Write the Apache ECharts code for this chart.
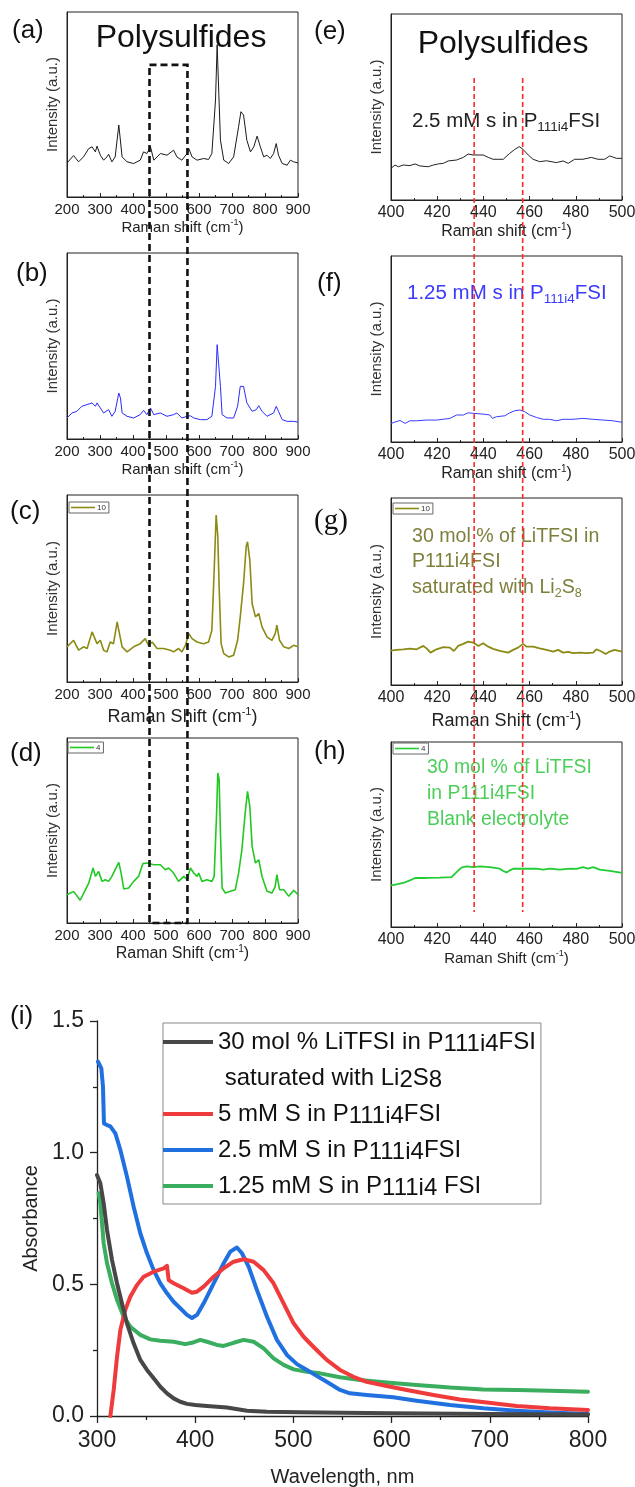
<!DOCTYPE html>
<html><head><meta charset="utf-8">
<script src="https://cdn.jsdelivr.net/npm/echarts@6/dist/echarts.min.js"></script>
<style>html,body{margin:0;padding:0;background:#fff}#c{width:635px;height:1487px}</style>
</head><body><div id="c"></div>
<script>
// ---------- data ----------
const wideRange = [200, 900];
const narrowRange = [400, 500];

const spectrumA = [[200,18.4],[220,22.4],[235,19.0],[250,21.7],[266,26.2],[276,27.1],[286,24.4],[291,27.5],[301,22.6],[311,19.9],[321,21.7],[326,23.1],[336,19.0],[346,21.7],[357,38.9],[367,21.7],[382,19.0],[402,18.1],[422,19.9],[432,24.4],[442,23.5],[453,27.1],[463,19.9],[483,23.5],[503,22.6],[523,25.3],[533,21.7],[548,19.9],[564,23.5],[569,26.2],[579,21.7],[594,19.9],[614,20.8],[629,20.3],[639,23.5],[650,52.4],[655,82.3],[660,56.1],[665,30.7],[675,19.9],[690,18.1],[705,21.7],[720,38.0],[727,46.1],[735,44.3],[745,30.7],[756,24.4],[766,27.1],[776,32.9],[786,27.1],[796,21.7],[806,22.6],[816,20.8],[826,23.5],[834,28.9],[841,22.6],[852,18.1],[867,17.2],[877,19.9],[887,19.0],[900,18.4]];
const spectrumB = [[200,11.3],[215,14.0],[230,14.9],[245,17.6],[261,18.5],[276,19.4],[286,17.6],[291,19.4],[301,16.7],[311,14.0],[326,15.8],[336,12.2],[346,14.9],[357,24.7],[362,22.0],[367,14.0],[382,12.2],[402,11.3],[422,13.1],[432,15.4],[442,13.1],[453,16.7],[463,13.1],[483,14.0],[503,12.2],[523,13.1],[533,14.0],[548,11.3],[564,12.2],[574,12.5],[584,11.3],[604,10.4],[624,10.4],[639,12.2],[650,28.3],[655,50.7],[660,49.8],[665,28.3],[670,13.1],[685,11.3],[705,11.3],[717,17.6],[725,28.3],[735,28.3],[745,19.4],[761,14.9],[774,15.8],[781,17.9],[791,14.9],[806,12.2],[826,14.0],[834,17.6],[841,14.9],[852,10.4],[867,9.5],[887,9.5],[900,9.1]];
const spectrumC = [[200,18.8],[220,22.3],[235,17.0],[250,18.8],[261,17.9],[276,26.8],[281,27.7],[291,20.5],[301,22.3],[311,17.0],[321,16.1],[331,21.4],[341,20.5],[352,32.1],[357,33.0],[367,18.8],[382,16.1],[402,18.8],[422,20.5],[437,23.2],[447,19.6],[458,21.4],[473,17.9],[493,17.9],[513,17.0],[523,16.1],[538,17.9],[548,16.1],[559,19.6],[569,25.9],[579,23.2],[594,21.4],[614,20.5],[629,21.4],[639,27.7],[646,59.8],[652,89.3],[657,77.7],[661,50.9],[667,20.5],[675,15.2],[690,13.4],[705,14.3],[717,22.3],[725,34.8],[735,52.7],[743,72.3],[747,75.0],[754,65.2],[761,42.0],[771,34.8],[781,36.6],[791,29.5],[806,24.1],[821,22.3],[831,25.9],[836,30.4],[844,22.3],[857,18.8],[872,17.9],[887,19.6],[900,18.8]];
const spectrumD = [[200,15.3],[220,17.1],[240,12.3],[256,18.0],[266,21.6],[279,29.7],[286,25.2],[296,27.9],[306,22.5],[316,23.4],[326,22.5],[336,25.2],[346,28.8],[357,32.8],[364,27.0],[372,18.4],[387,18.9],[402,22.5],[417,25.2],[430,32.1],[442,32.4],[463,31.5],[483,31.5],[498,28.8],[508,29.7],[523,27.0],[538,22.5],[554,25.2],[564,23.4],[574,29.7],[584,27.0],[594,25.2],[599,27.0],[609,22.5],[624,23.4],[639,22.5],[646,25.2],[653,57.7],[657,81.1],[661,77.5],[665,48.6],[670,18.9],[680,16.2],[695,17.1],[710,18.0],[720,27.0],[730,39.6],[740,59.5],[747,71.2],[754,63.1],[761,41.4],[771,32.4],[781,34.2],[791,25.2],[806,17.1],[821,16.2],[831,19.8],[836,26.1],[844,18.0],[857,18.0],[872,14.4],[887,17.7],[900,15.3]];
const spectrumE = [[400,17.0],[401.7,18.8],[403.2,17.9],[405.3,18.8],[408.2,18.5],[410.4,19.4],[412.5,18.3],[416.1,17.9],[418.3,18.8],[420.5,19.4],[422.6,19.7],[424.8,21.0],[428.4,21.5],[431.3,22.9],[433.4,24.7],[435.6,24.2],[439.9,24.2],[442.1,22.9],[444.2,21.9],[448.6,21.9],[451.4,25.1],[453.6,27.2],[455.5,28.7],[457.2,27.2],[459.4,24.2],[461.5,21.9],[464.4,20.6],[467.3,21.1],[471.6,20.1],[474.5,21.0],[476.7,19.7],[479.5,21.9],[483.1,21.9],[486.7,22.9],[489.6,21.9],[492.5,21.9],[494.7,23.7],[497.6,22.4],[500,22.4]];
const spectrumF = [[400,10.0],[401.7,10.7],[403.9,11.6],[406.1,10.0],[408.2,11.4],[411.1,11.4],[415.4,11.8],[419.7,11.8],[422.6,12.2],[425.5,12.7],[428.4,14.5],[431.3,14.5],[433.4,15.7],[435.6,15.4],[439.9,15.0],[442.8,14.5],[443.9,12.7],[445.7,13.6],[449.3,14.1],[451.4,15.7],[453.6,16.8],[455.8,17.2],[457.9,16.3],[460.1,14.5],[463.0,13.2],[465.9,12.2],[468.7,12.2],[471.6,11.4],[474.5,12.2],[478.8,12.2],[483.1,12.7],[487.5,12.2],[491.8,11.8],[496.1,11.4],[500,10.6]];
const spectrumG = [[400,18.4],[402.4,18.8],[405.3,19.1],[408.2,19.5],[411.1,19.1],[414.0,20.9],[415.4,19.6],[417.1,17.3],[419.7,19.1],[422.6,20.2],[425.5,20.0],[427.2,18.2],[429.1,20.9],[431.3,22.0],[433.4,23.2],[435.6,22.7],[437.8,20.9],[439.9,22.3],[442.1,20.5],[444.2,19.3],[447.1,18.2],[450.7,17.3],[452.9,18.8],[455.0,20.0],[457.2,22.0],[458.6,20.5],[461.5,20.5],[464.4,19.6],[467.3,18.8],[470.2,17.9],[472.3,18.8],[474.5,17.3],[476.7,17.7],[478.8,17.0],[481.7,17.3],[484.6,17.0],[487.5,17.3],[488.9,19.1],[491.1,17.9],[492.9,16.6],[494.7,17.9],[496.8,18.8],[500,17.9]];
const spectrumH = [[400,22.5],[402.4,23.1],[405.3,23.8],[408.2,25.2],[410.4,26.5],[415.4,26.5],[421.2,26.7],[426.2,27.0],[428.4,29.7],[430.5,32.1],[432.7,32.8],[435.6,32.4],[438.5,32.8],[442.8,32.4],[447.1,31.5],[448.6,30.3],[450.0,29.5],[451.4,30.6],[452.9,31.5],[457.2,31.5],[463.0,31.5],[465.9,31.0],[468.7,31.5],[473.1,31.0],[477.4,31.5],[480.3,31.4],[483.1,32.4],[485.3,31.5],[487.5,32.4],[490.3,31.0],[494.7,30.3],[500,29.2]];

const uvBlack = [[300,0.915],[303.4,0.884],[306.8,0.808],[310.2,0.706],[315.3,0.592],[320.4,0.504],[325.4,0.428],[330.5,0.352],[337.3,0.276],[344.1,0.213],[350.9,0.175],[357.7,0.143],[364.5,0.111],[371.3,0.086],[378,0.067],[384.8,0.054],[391.6,0.046],[400.1,0.042],[412,0.038],[432.3,0.032],[452.7,0.020],[473.1,0.016],[507,0.014],[550,0.012],[600,0.010],[700,0.008],[800,0.006]];
const uvRed = [[313.6,0.0],[317,0.099],[320.4,0.225],[323.8,0.327],[328.8,0.403],[333.9,0.453],[340.7,0.497],[347.5,0.529],[357.7,0.548],[367.9,0.561],[371.3,0.570],[373,0.516],[378,0.504],[388.2,0.485],[396.7,0.468],[401.8,0.472],[408.6,0.491],[418.8,0.529],[429,0.561],[439.1,0.586],[449.3,0.595],[459.5,0.586],[469.7,0.554],[479.8,0.504],[490,0.428],[500.2,0.352],[510.4,0.301],[520.3,0.263],[533.9,0.213],[547.5,0.175],[561.1,0.149],[574.6,0.130],[595,0.114],[615.4,0.099],[642.6,0.080],[669.7,0.063],[696.9,0.051],[727.3,0.038],[761.3,0.029],[800,0.023]];
const uvBlue = [[301,1.346],[304.4,1.320],[306.1,1.250],[307.1,1.111],[310.2,1.105],[313.6,1.100],[318.7,1.073],[323.8,1.010],[330.5,0.909],[337.3,0.795],[344.1,0.694],[350.9,0.618],[357.7,0.554],[364.5,0.504],[371.3,0.466],[378,0.434],[384.8,0.409],[391.6,0.384],[396.7,0.372],[401.8,0.384],[408.6,0.428],[418.8,0.504],[429,0.580],[435.7,0.624],[442.5,0.640],[447.6,0.618],[454.4,0.567],[462.9,0.478],[473.1,0.377],[483.2,0.289],[493.4,0.232],[503.6,0.197],[513.8,0.175],[520.3,0.160],[533.9,0.130],[547.5,0.099],[557.6,0.086],[574.6,0.080],[601.7,0.071],[625.4,0.058],[659.5,0.042],[693.4,0.029],[727.3,0.020],[761.3,0.013],[800,0.008]];
const uvGreen = [[301.7,0.846],[303.4,0.808],[305.1,0.732],[306.8,0.656],[310.2,0.580],[315.3,0.504],[320.4,0.441],[327.1,0.377],[333.9,0.339],[344.1,0.308],[354.3,0.291],[364.5,0.286],[378,0.282],[389.9,0.273],[396.7,0.278],[405.2,0.289],[412,0.282],[422.2,0.270],[429,0.266],[439.1,0.278],[449.3,0.289],[459.5,0.282],[469.7,0.257],[479.8,0.219],[490,0.194],[500.2,0.177],[513.8,0.168],[527.1,0.162],[547.5,0.147],[567.8,0.137],[595,0.127],[625.4,0.118],[659.5,0.108],[693.4,0.101],[727.3,0.099],[761.3,0.096],[800,0.092]];

const uvNames = ['30 mol % LiTFSI in P111i4FSI', 'saturated with Li2S8', '5 mM S in P111i4FSI', '2.5 mM S in P111i4FSI', '1.25 mM S in P111i4 FSI'];
const uvRich = ['30 mol % LiTFSI in P{s|111i4}FSI', ' saturated with Li{s|2}S{s|8}', '5 mM S in P{s|111i4}FSI', '2.5 mM S in P{s|111i4}FSI', '1.25 mM S in P{s|111i4} FSI'];
const wavelengthRange = [300, 800];
const absorbanceRange = [0, 1.5];

const boxRange = [450, 565];      // cm-1, dashed window on left panels
const boxSpan = [71.4, 0];        // top (panel a units), bottom (panel d units)
const redMarks = [436, 457];      // cm-1, red dashed guides on right panels
const redSpan = [65.6, 8.1];      // top (panel e units), bottom (panel h units)

// ---------- layout ----------
const FF = 'Liberation Sans, Arial, sans-serif';
const panels = [
  {data: spectrumA, g:{left:67,top:12,width:231,height:185},  r:wideRange, iv:100, nm:'Raman shift (cm{sup|-1})', ns:15, ng:20, ls:15, c:'#1a1a1a', w:1},
  {data: spectrumB, g:{left:67,top:253,width:231,height:186}, r:wideRange, iv:100, nm:'Raman shift (cm{sup|-1})', ns:15, ng:21, ls:15, c:'#2b2bff', w:1},
  {data: spectrumC, g:{left:67,top:495,width:231,height:187}, r:wideRange, iv:100, nm:'Raman Shift (cm{sup|-1})', ns:18, ng:24, ls:15, c:'#8b8b14', w:1.6, leg:'10', lp:{left:69,top:502}},
  {data: spectrumD, g:{left:67,top:738,width:231,height:185}, r:wideRange, iv:100, nm:'Raman Shift (cm{sup|-1})', ns:16, ng:19, ls:15, c:'#22c822', w:1.6, leg:'4', lp:{left:68,top:742}},
  {data: spectrumE, g:{left:391,top:14,width:231,height:186}, r:narrowRange, iv:20, nm:'Raman shift (cm{sup|-1})', ns:16, ng:18, ls:16, c:'#222222', w:1},
  {data: spectrumF, g:{left:391,top:256,width:231,height:186}, r:narrowRange, iv:20, nm:'Raman shift (cm{sup|-1})', ns:16, ng:21, ls:16, c:'#3b3bff', w:1},
  {data: spectrumG, g:{left:391,top:498,width:231,height:187}, r:narrowRange, iv:20, nm:'Raman Shift (cm{sup|-1})', ns:18, ng:25, ls:16, c:'#8b8b14', w:1.8, leg:'10', lp:{left:393,top:503}},
  {data: spectrumH, g:{left:391,top:742,width:231,height:185}, r:narrowRange, iv:20, nm:'Raman Shift (cm{sup|-1})', ns:15, ng:22, ls:16, c:'#22cc33', w:1.8, leg:'4', lp:{left:393,top:743}}
];
const uvColors = ['#474747', 'rgba(0,0,0,0)', '#ef3b3b', '#2070e0', '#3aad5e'];
const uvData = [uvBlack, [], uvRed, uvBlue, uvGreen];

const grids = [], xAxes = [], yAxes = [], series = [], legends = [];
panels.forEach((p, i) => {
  grids.push(Object.assign({show:true, borderColor:'#222', borderWidth:1, backgroundColor:'transparent', containLabel:false, outerBoundsMode:'none'}, p.g));
  xAxes.push({
    type:'value', gridIndex:i, min:p.r[0], max:p.r[1], interval:p.iv,
    name:p.nm, nameLocation:'middle', nameGap:p.ng,
    nameTextStyle:{fontSize:p.ns, color:'#222', fontFamily:FF, lineHeight:p.ns+4, rich:{sup:{fontSize:Math.round(p.ns*0.62), lineHeight:Math.round(p.ns*0.62), verticalAlign:'top', color:'#222', fontFamily:FF}}},
    axisLine:{show:true, onZero:false, lineStyle:{color:'#222', width:1}},
    axisTick:{show:true, inside:true, length:4, lineStyle:{color:'#222'}},
    minorTick:{show:true, splitNumber:2, length:2, lineStyle:{color:'#222'}},
    axisLabel:{fontSize:p.ls, color:'#222', margin:5, fontFamily:FF, showMinLabel:true, showMaxLabel:true},
    splitLine:{show:false}, minorSplitLine:{show:false}
  });
  yAxes.push({
    type:'value', gridIndex:i, min:0, max:100,
    name:'Intensity (a.u.)', nameLocation:'middle', nameGap:7, nameRotate:90,
    nameTextStyle:{fontSize:15, color:'#333', fontFamily:FF},
    axisLine:{show:true, onZero:false, lineStyle:{color:'#222', width:1}},
    axisTick:{show:false}, axisLabel:{show:false}, splitLine:{show:false}
  });
  const sname = p.leg ? ('s' + i + '_' + p.leg) : ('s' + i);
  series.push({
    name:sname, type:'line', xAxisIndex:i, yAxisIndex:i, data:p.data,
    symbol:'none', showSymbol:false, silent:true, animation:false,
    lineStyle:{color:p.c, width:p.w}, itemStyle:{color:p.c}
  });
  if (p.leg) {
    legends.push({
      data:[{name:sname, icon:'rect'}], left:p.lp.left, top:p.lp.top, orient:'horizontal', selectedMode:false,
      itemWidth:24, itemHeight:1.6, itemGap:0, padding:[1,3,1,2],
      borderColor:'#666', borderWidth:1, backgroundColor:'#fff',
      formatter:() => p.leg,
      textStyle:{fontSize:8, color:'#333', fontFamily:FF, padding:[0,0,0,-3], lineHeight:9}
    });
  }
});

// UV-vis panel
const ui = panels.length;
grids.push({left:97, top:1021, width:491, height:395, show:false, containLabel:false, outerBoundsMode:'none'});
xAxes.push({
  type:'value', gridIndex:ui, min:wavelengthRange[0], max:wavelengthRange[1], interval:100,
  name:'Wavelength, nm', nameLocation:'middle', nameGap:51,
  nameTextStyle:{fontSize:20, color:'#222', fontFamily:FF},
  axisLine:{show:true, onZero:false, lineStyle:{color:'#222', width:1.3}},
  axisTick:{show:true, inside:false, length:7, lineStyle:{color:'#222', width:1.3}},
  minorTick:{show:true, splitNumber:2, length:4, lineStyle:{color:'#222', width:1.3}},
  axisLabel:{fontSize:23, color:'#222', margin:13, fontFamily:FF},
  splitLine:{show:false}
});
yAxes.push({
  type:'value', gridIndex:ui, min:absorbanceRange[0], max:absorbanceRange[1], interval:0.5,
  name:'Absorbance', nameLocation:'middle', nameGap:49, nameRotate:90,
  nameTextStyle:{fontSize:20, color:'#222', fontFamily:FF},
  axisLine:{show:true, onZero:false, lineStyle:{color:'#222', width:1.3}},
  axisTick:{show:true, inside:false, length:7, lineStyle:{color:'#222', width:1.3}},
  minorTick:{show:true, splitNumber:2, length:4, lineStyle:{color:'#222', width:1.3}},
  axisLabel:{fontSize:23, color:'#222', margin:13, fontFamily:FF, formatter:v => v.toFixed(1)},
  splitLine:{show:false}
});
uvNames.forEach((n, k) => {
  series.push({
    name:n, type:'line', xAxisIndex:ui, yAxisIndex:ui, data:uvData[k],
    symbol:'none', showSymbol:false, silent:true, animation:false, z: 10 - k,
    lineStyle:{color:uvColors[k], width:4, join:'round', cap:'round'}, itemStyle:{color:uvColors[k]}
  });
});
legends.push({
  data: uvNames.map((n, k) => k === 1 ? {name:n, icon:'rect', itemStyle:{color:'rgba(0,0,0,0)', opacity:0}} : {name:n, icon:'rect'}),
  orient:'vertical', left:163, top:1023, selectedMode:false,
  itemWidth:50, itemHeight:4, itemGap:8, padding:[5,5,4,0],
  borderColor:'#888', borderWidth:1, backgroundColor:'#fff',
  formatter: name => uvRich[uvNames.indexOf(name)],
  textStyle:{fontSize:24, color:'#111', fontFamily:FF, lineHeight:28,
    rich:{s:{fontSize:24, lineHeight:17, verticalAlign:'bottom', color:'#111', fontFamily:FF}}}
});

const chart = echarts.init(document.getElementById('c'), null, {renderer:'canvas', width:635, height:1487});
chart.setOption({
  animation:false, backgroundColor:'#fff',
  textStyle:{fontFamily:FF},
  grid:grids, xAxis:xAxes, yAxis:yAxes, series:series, legend:legends
});

// ---------- annotations ----------
function txt(x, y, text, size, color, extra) {
  return {type:'text', z:100, style:Object.assign({x:x, y:y, text:text, fontSize:size, fontFamily:FF, fill:color, textVerticalAlign:'middle'}, extra || {})};
}
const g = [];
[['(a)',12,31],['(b)',16,274],['(c)',10,512],['(d)',10,754],['(e)',314,32],['(f)',317,284],['(h)',314,752],['(i)',10,1017]].forEach(l => {
  g.push(txt(l[1], l[2], l[0], 26, '#111'));
});
g.push(txt(314, 521, '(g)', 29, '#111', {fontFamily:'Liberation Serif, serif'}));
g.push(txt(181, 38, 'Polysulfides', 32, '#111', {textAlign:'center'}));
g.push(txt(503, 44, 'Polysulfides', 32, '#111', {textAlign:'center'}));
g.push(txt(412, 121, '2.5 mM s in P{s|111i4}FSI', 20.5, '#222', {lineHeight:26, rich:{s:{fontSize:13.5, lineHeight:13, verticalAlign:'bottom', fill:'#222', fontFamily:FF}}}));
g.push(txt(407, 293, '1.25 mM s in P{s|111i4}FSI', 20.5, '#3b3bff', {lineHeight:26, rich:{s:{fontSize:13.5, lineHeight:13, verticalAlign:'bottom', fill:'#3b3bff', fontFamily:FF}}}));
g.push(txt(412, 562, '30 mol % of LiTFSI in\nP111i4FSI\nsaturated with Li{s|2}S{s|8}', 19.6, '#7f7f3c', {lineHeight:25.5, rich:{s:{fontSize:12.5, lineHeight:12, verticalAlign:'bottom', fill:'#7f7f3c', fontFamily:FF}}}));
g.push(txt(427, 794, '30 mol % of LiTFSI\nin P111i4FSI\nBlank electrolyte', 19.4, '#4ccf5a', {lineHeight:26}));

// dashed guides positioned through the axes' own scales
const bx0 = chart.convertToPixel({xAxisIndex:0}, boxRange[0]);
const bx1 = chart.convertToPixel({xAxisIndex:0}, boxRange[1]);
const by0 = chart.convertToPixel({yAxisIndex:0}, boxSpan[0]);
const by1 = chart.convertToPixel({yAxisIndex:3}, boxSpan[1]);
g.push({type:'rect', z:110, shape:{x:bx0, y:by0, width:bx1 - bx0, height:by1 - by0},
  style:{fill:'none', stroke:'#111', lineWidth:2.6, lineDash:[7,4]}});
const ry0 = chart.convertToPixel({yAxisIndex:4}, redSpan[0]);
const ry1 = chart.convertToPixel({yAxisIndex:7}, redSpan[1]);
redMarks.forEach(v => {
  const x = chart.convertToPixel({xAxisIndex:4}, v);
  g.push({type:'line', z:110, shape:{x1:x, y1:ry0, x2:x, y2:ry1}, style:{stroke:'#ff2a2a', lineWidth:1.6, lineDash:[5,3]}});
});
chart.setOption({graphic:g});
</script></body></html>
